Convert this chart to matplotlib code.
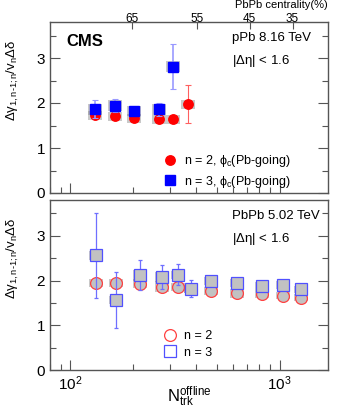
import numpy as np
import matplotlib
matplotlib.use("Agg")
import matplotlib.pyplot as plt
from matplotlib.patches import Rectangle
from matplotlib.ticker import FixedLocator, NullFormatter, LogLocator

plt.rcParams['font.family'] = ['Liberation Sans', 'DejaVu Sans']
plt.rcParams['mathtext.fontset'] = 'custom'
plt.rcParams['mathtext.rm'] = 'Liberation Sans'
plt.rcParams['mathtext.it'] = 'Liberation Sans:italic'
plt.rcParams['mathtext.default'] = 'regular'

# pPb 8.16 TeV
ppb_ntrk = [131, 163, 201, 265, 311, 363]
ppb_n2 = [1.73, 1.71, 1.66, 1.64, 1.64, 1.97]
ppb_n2_err = [0.04, 0.04, 0.03, 0.03, 0.03, 0.42]
ppb_n2_sys = [0.10, 0.10, 0.10, 0.10, 0.10, 0.10]
ppb_n3_ntrk = [131, 163, 201, 265, 311]
ppb_n3 = [1.86, 1.94, 1.82, 1.86, 2.81]
ppb_n3_err = [0.20, 0.15, 0.05, 0.15, 0.50]
ppb_n3_sys = [0.12, 0.12, 0.12, 0.12, 0.12]

# PbPb 5.02 TeV
pbpb_ntrk = [133, 166, 215, 275, 325, 375, 468, 628, 819, 1033, 1265]
pbpb_n2 = [1.95, 1.95, 1.93, 1.86, 1.85, 1.82, 1.77, 1.72, 1.69, 1.66, 1.62]
pbpb_n2_err = [0.03, 0.03, 0.03, 0.03, 0.03, 0.02, 0.02, 0.02, 0.02, 0.02, 0.02]
pbpb_n2_sys = [0.09, 0.09, 0.10, 0.12, 0.09, 0.09, 0.09, 0.10, 0.09, 0.08, 0.08]
pbpb_n3 = [2.56, 1.57, 2.12, 2.07, 2.13, 1.82, 1.99, 1.94, 1.88, 1.90, 1.80]
pbpb_n3_err = [0.96, 0.63, 0.33, 0.27, 0.23, 0.19, 0.03, 0.03, 0.03, 0.03, 0.03]
pbpb_n3_sys = [0.09, 0.09, 0.12, 0.11, 0.09, 0.09, 0.09, 0.09, 0.09, 0.08, 0.08]

# top axis: PbPb centrality
cent_labels = ['65', '55', '45', '35']
cent_ntrk = [196, 404, 718, 1151]

RED = '#ff0000'
BLUE = '#0000ff'
LBLUE = '#6f6fff'
FRAME = '#555555'
GREYFILL = '#c2c2c2'


def sys_boxes(ax, x, y, s, fac=1.08):
    for xi, yi, si in zip(x, y, s):
        ax.add_patch(Rectangle((xi / fac, yi - si), xi * fac - xi / fac, 2 * si,
                               facecolor='#888888', alpha=0.45, edgecolor='none', zorder=1))


def style_axes(ax):
    ax.set_xscale('log')
    ax.set_xlim(80, 1700)
    ax.set_ylim(0, 3.8)
    ax.yaxis.set_major_locator(FixedLocator([0, 1, 2, 3]))
    ax.yaxis.set_minor_locator(FixedLocator([0.5, 1.5, 2.5, 3.5]))
    ax.xaxis.set_major_locator(LogLocator(base=10))
    ax.xaxis.set_minor_locator(LogLocator(base=10, subs=np.arange(2, 10)))
    ax.xaxis.set_minor_formatter(NullFormatter())
    ax.tick_params(which='both', direction='in', right=True, top=False, colors=FRAME,
                   labelcolor='black', labelsize=11, width=0.8)
    ax.tick_params(which='major', length=7)
    ax.tick_params(which='minor', length=4)
    for sp in ax.spines.values():
        sp.set_color(FRAME)
        sp.set_linewidth(1.0)


fig = plt.figure(figsize=(3.38, 4.12), dpi=100)
ax1 = fig.add_axes([50 / 338, 1 - 193 / 412, 278 / 338, 171 / 412])
ax2 = fig.add_axes([50 / 338, 1 - 370 / 412, 278 / 338, 170 / 412])

ylab = r'$\Delta\gamma_{1,n\text{-}1;n}/v_{n}\Delta\delta$'

# ---- top panel: pPb
style_axes(ax1)
sys_boxes(ax1, ppb_ntrk, ppb_n2, ppb_n2_sys)
sys_boxes(ax1, ppb_n3_ntrk, ppb_n3, ppb_n3_sys)
ax1.errorbar(ppb_ntrk, ppb_n2, yerr=ppb_n2_err, fmt='o', color=RED, ms=6.8,
             elinewidth=0.8, capsize=2, capthick=0.8, zorder=3, ecolor='#ff6060')
ax1.errorbar(ppb_n3_ntrk, ppb_n3, yerr=ppb_n3_err, fmt='s', color=BLUE, ms=6.5,
             elinewidth=1.2, capsize=2, capthick=0.8, zorder=4, ecolor='#9999ff')
ax1.xaxis.set_major_formatter(NullFormatter())
ax1.text(0.06, 0.93, 'CMS', transform=ax1.transAxes, fontsize=12, fontweight='bold', va='top')
ax1.text(0.655, 0.94, 'pPb 8.16 TeV', transform=ax1.transAxes, fontsize=9.5, va='top')
ax1.text(0.655, 0.82, r'|$\Delta\eta$| < 1.6', transform=ax1.transAxes, fontsize=9.5, va='top')
ax1.plot([], [], 'o', color=RED, ms=6.8, label=r'n = 2, $\phi_{c}$(Pb-going)')
ax1.plot([], [], 's', color=BLUE, ms=6.5, label=r'n = 3, $\phi_{c}$(Pb-going)')
ax1.legend(loc='center left', bbox_to_anchor=(0.365, 0.125), frameon=False, fontsize=9,
           handletextpad=0.5, labelspacing=0.35, handlelength=1.2)

# top axis with PbPb centrality
ax1t = ax1.twiny()
ax1t.set_xscale('log')
ax1t.set_xlim(80, 1700)
ax1t.xaxis.set_major_locator(FixedLocator(cent_ntrk))
ax1t.xaxis.set_minor_locator(FixedLocator([]))
ax1t.set_xticklabels(cent_labels)
ax1t.tick_params(which='both', direction='in', length=5, colors=FRAME, labelcolor='black',
                 labelsize=8.5, pad=-2.5)
for sp in ax1t.spines.values():
    sp.set_visible(False)
fig.text(1 - 10 / 338, 1 - 0.5 / 412, 'PbPb centrality(%)', fontsize=8,
         ha='right', va='top')

ax1.set_ylabel(ylab, fontsize=9.5)
ax1.yaxis.set_label_coords(-0.105, 0.66)

# ---- bottom panel: PbPb
style_axes(ax2)
sys_boxes(ax2, pbpb_ntrk, pbpb_n2, pbpb_n2_sys)
sys_boxes(ax2, pbpb_ntrk, pbpb_n3, pbpb_n3_sys)
ax2.errorbar(pbpb_ntrk, pbpb_n2, yerr=pbpb_n2_err, fmt='o', mfc=GREYFILL, mec='#ff4040',
             ecolor='#ff6060', ms=8.5, mew=0.9, elinewidth=0.8, capsize=0, zorder=3)
ax2.errorbar(pbpb_ntrk, pbpb_n3, yerr=pbpb_n3_err, fmt='s', mfc=GREYFILL, mec='#5050ff',
             ecolor=LBLUE, ms=8, mew=0.9, elinewidth=0.9, capsize=1.5, capthick=0.8, zorder=4)
ax2.text(0.655, 0.94, 'PbPb 5.02 TeV', transform=ax2.transAxes, fontsize=9.5, va='top')
ax2.text(0.655, 0.82, r'|$\Delta\eta$| < 1.6', transform=ax2.transAxes, fontsize=9.5, va='top')
ax2.plot([], [], 'o', mfc='none', mec='#ff4040', ms=8.5, mew=0.9, label='n = 2')
ax2.plot([], [], 's', mfc='none', mec='#5050ff', ms=8, mew=0.9, label='n = 3')
ax2.legend(loc='center left', bbox_to_anchor=(0.365, 0.15), frameon=False, fontsize=9,
           handletextpad=0.5, labelspacing=0.35, handlelength=1.2)
ax2.set_ylabel(ylab, fontsize=9.5)
ax2.yaxis.set_label_coords(-0.105, 0.66)
ax2.set_xlabel(r'$N_{trk}^{offline}$', fontsize=12)
ax2.xaxis.set_label_coords(0.5, -0.085)

fig.savefig('out.png', dpi=100)
